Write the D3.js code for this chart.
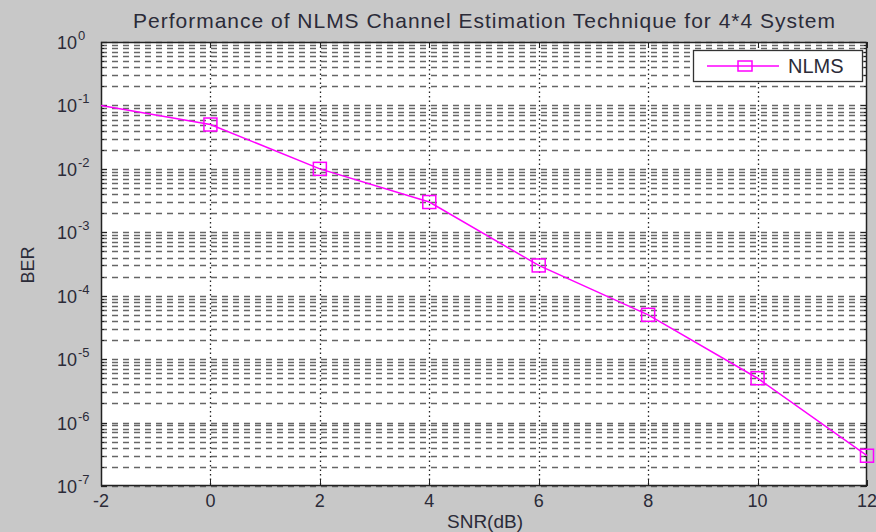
<!DOCTYPE html>
<html>
<head>
<meta charset="utf-8">
<script src="https://cdn.jsdelivr.net/npm/d3@7.9.0/dist/d3.min.js"></script>
<style>
  html, body { margin: 0; padding: 0; background: #c8c8c8; }
  svg { display: block; font-family: "Liberation Sans", Arial, sans-serif; }
</style>
</head>
<body>
<svg id="chart" width="876" height="532"></svg>
<script>
// data
const snr = [-2, 0, 2, 4, 6, 8, 10, 12];
const berNlms = [0.1, 0.05, 0.01, 0.003, 0.0003, 0.00005, 0.000005, 0.0000003];
const markerSnr = [0, 2, 4, 6, 8, 10, 12];
const xTicks = [-2, 0, 2, 4, 6, 8, 10, 12];
const yExponents = [0, -1, -2, -3, -4, -5, -6, -7];

const svg = d3.select("#chart");
const margin = { left: 101, right: 9, top: 42, bottom: 46 };
const width = 876 - margin.left - margin.right;
const height = 532 - margin.top - margin.bottom;
const textColor = "#2b2b38";

const x = d3.scaleLinear().domain([-2, 12]).range([0, width]);
const y = d3.scaleLog().domain([1e-7, 1]).range([height, 0]);

const g = svg.append("g").attr("transform", `translate(${margin.left},${margin.top})`);

g.append("rect")
  .attr("width", width)
  .attr("height", height)
  .attr("fill", "#fff");

// horizontal grid at every log tick
const yGridVals = [];
for (let e = -7; e < 0; e++) {
  for (let m = 1; m <= 9; m++) yGridVals.push(m * Math.pow(10, e));
}
yGridVals.push(1);

g.append("g")
  .selectAll("line")
  .data(yGridVals)
  .join("line")
  .attr("x1", 0)
  .attr("x2", width)
  .attr("y1", (d) => Math.round(y(d)) + 0.5)
  .attr("y2", (d) => Math.round(y(d)) + 0.5)
  .attr("stroke", "#666")
  .attr("stroke-width", 1.5)
  .attr("stroke-dasharray", "6,5");

// vertical grid at x ticks
g.append("g")
  .selectAll("line")
  .data(xTicks.slice(1, -1))
  .join("line")
  .attr("x1", (d) => Math.round(x(d)) + 0.5)
  .attr("x2", (d) => Math.round(x(d)) + 0.5)
  .attr("y1", 0)
  .attr("y2", height)
  .attr("stroke", "#222")
  .attr("stroke-width", 1.3)
  .attr("stroke-dasharray", "1.5,3");

// ticks on all four sides
const tickG = g.append("g").attr("stroke", "#222").attr("stroke-width", 1);
xTicks.forEach((d) => {
  const xx = Math.round(x(d)) + 0.5;
  tickG.append("line").attr("x1", xx).attr("x2", xx).attr("y1", height).attr("y2", height - 6);
  tickG.append("line").attr("x1", xx).attr("x2", xx).attr("y1", 0).attr("y2", 6);
});
yGridVals.forEach((d) => {
  const yy = Math.round(y(d)) + 0.5;
  const len = Math.abs(Math.log10(d) - Math.round(Math.log10(d))) < 1e-9 ? 6 : 3;
  tickG.append("line").attr("x1", 0).attr("x2", len).attr("y1", yy).attr("y2", yy);
  tickG.append("line").attr("x1", width).attr("x2", width - len).attr("y1", yy).attr("y2", yy);
});

// box
g.append("rect")
  .attr("x", 0.5)
  .attr("y", 0.5)
  .attr("width", width - 1)
  .attr("height", height - 1)
  .attr("fill", "none")
  .attr("stroke", "#222")
  .attr("stroke-width", 1.5);

// x tick labels
g.append("g")
  .selectAll("text")
  .data(xTicks)
  .join("text")
  .attr("x", (d) => x(d))
  .attr("y", height + 21)
  .attr("text-anchor", "middle")
  .attr("font-size", 18)
  .attr("fill", textColor)
  .text((d) => d);

// y tick labels with superscripts
const yl = g.append("g").selectAll("text")
  .data(yExponents)
  .join("text")
  .attr("x", -44)
  .attr("y", (d) => y(Math.pow(10, d)) + 7)
  .attr("font-size", 18)
  .attr("fill", textColor);
yl.append("tspan").text("10");
yl.append("tspan")
  .attr("dy", -9)
  .attr("dx", 1)
  .attr("font-size", 13)
  .text((d) => d);

// line + markers
const line = d3.line().x((d) => x(d[0])).y((d) => y(d[1]));
const pts = snr.map((s, i) => [s, berNlms[i]]);
g.append("path")
  .datum(pts)
  .attr("d", line)
  .attr("fill", "none")
  .attr("stroke", "#ff00ff")
  .attr("stroke-width", 1.5);

const ms = 13;
g.append("g")
  .selectAll("rect")
  .data(pts.filter((p) => markerSnr.includes(p[0])))
  .join("rect")
  .attr("x", (d) => x(d[0]) - ms / 2)
  .attr("y", (d) => y(d[1]) - ms / 2)
  .attr("width", ms)
  .attr("height", ms)
  .attr("fill", "none")
  .attr("stroke", "#ff00ff")
  .attr("stroke-width", 1.5);

// legend
const lg = svg.append("g").attr("transform", "translate(693,50)");
lg.append("rect")
  .attr("x", 0.5)
  .attr("y", 0.5)
  .attr("width", 169)
  .attr("height", 31)
  .attr("fill", "#fff")
  .attr("stroke", "#333")
  .attr("stroke-width", 1.3);
lg.append("line")
  .attr("x1", 14).attr("x2", 86)
  .attr("y1", 16).attr("y2", 16)
  .attr("stroke", "#ff00ff").attr("stroke-width", 1.5);
lg.append("rect")
  .attr("x", 45).attr("y", 11)
  .attr("width", 14).attr("height", 10)
  .attr("fill", "none")
  .attr("stroke", "#ff00ff").attr("stroke-width", 1.5);
lg.append("text")
  .attr("x", 95).attr("y", 23)
  .attr("font-size", 20)
  .attr("fill", textColor)
  .text("NLMS");

// title and axis labels
svg.append("text")
  .attr("x", 133).attr("y", 28)
  .attr("font-size", 21)
  .attr("textLength", 702)
  .attr("lengthAdjust", "spacing")
  .attr("fill", textColor)
  .text("Performance of NLMS Channel Estimation Technique for 4*4 System");

svg.append("text")
  .attr("x", 485).attr("y", 528)
  .attr("text-anchor", "middle")
  .attr("font-size", 19)
  .attr("fill", textColor)
  .text("SNR(dB)");

svg.append("text")
  .attr("transform", "translate(34,265) rotate(-90)")
  .attr("text-anchor", "middle")
  .attr("font-size", 18)
  .attr("fill", textColor)
  .text("BER");
</script>
</body>
</html>
